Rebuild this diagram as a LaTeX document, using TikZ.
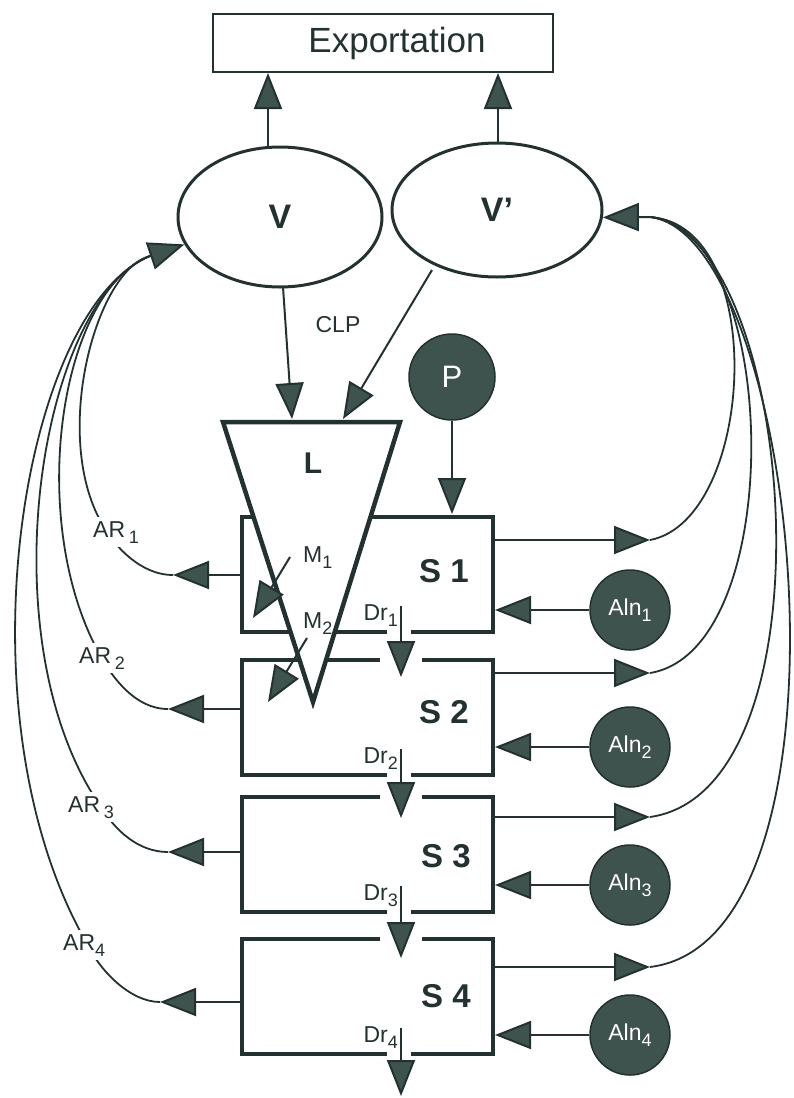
\documentclass[tikz,border=0pt]{standalone}
\usepackage{fontspec}
\setmainfont{Liberation Sans}
\usetikzlibrary{arrows.meta,shapes.geometric}
\definecolor{ink}{RGB}{35,50,48}
\definecolor{fillc}{RGB}{62,82,78}
\newcommand\fs[1]{\fontsize{#1}{#1}\selectfont}
\newcommand\lsub[1]{\raisebox{-6pt}{\fs{18}#1}}
\tikzset{
  thinl/.style={line width=2pt, draw=ink},
  arr/.style={line width=2pt, draw=ink, -{Triangle[length=36pt,width=28pt,fill=fillc]}},
  boxline/.style={line width=4.5pt, draw=ink, line join=miter},
  curv/.style={line width=1.8pt, draw=ink},
  dot/.style={circle, fill=fillc, draw=ink, line width=1.5pt, text=white, inner sep=0pt},
  lab/.style={font=\fs{23}, text=ink, inner sep=0pt},
  arlab/.style={font=\fs{23}, text=ink, fill=white, inner sep=4pt, anchor=base west},
}
\begin{document}
\begin{tikzpicture}[x=1pt,y=-1pt]
\useasboundingbox (0,0) rectangle (794,1098);

% junction coordinates
\coordinate (Vj) at (150,256);
\coordinate (Vpj) at (650,217);
\coordinate (O1) at (650,540);
\coordinate (O2) at (650,673);
\coordinate (O3) at (650,817);
\coordinate (O4) at (650,967);
\coordinate (A1) at (173,575);
\coordinate (A2) at (168,709);
\coordinate (A3) at (168,852);
\coordinate (A4) at (160,1002);

% right curves
\draw[curv] (Vpj) .. controls (770,225) and (755,520) .. (O1);
\draw[curv] (Vpj) .. controls (780,228) and (790,650) .. (O2);
\draw[curv] (Vpj) .. controls (795,233) and (840,790) .. (O3);
\draw[curv] (Vpj) .. controls (800,235) and (870,940) .. (O4);

% left curves
\draw[curv] (Vj) .. controls (95,270) and (50,440) .. (104,527) .. controls (114,545) and (140,575) .. (A1);
\draw[curv] (Vj) .. controls (60,290) and (25,520) .. (100,655) .. controls (112,677) and (135,709) .. (A2);
\draw[curv] (Vj) .. controls (40,300) and (-15,640) .. (101,807) .. controls (115,830) and (138,852) .. (A3);
\draw[curv] (Vj) .. controls (20,310) and (-45,720) .. (89,947) .. controls (100,970) and (130,1002) .. (A4);

% AR labels
\node[arlab] (AR1) at (89,537) {AR\,\lsub{1}};
\node[arlab] (AR2) at (75,663) {AR\,\lsub{2}};
\node[arlab] (AR3) at (64,812) {AR\,\lsub{3}};
\node[arlab] (AR4) at (59,950) {AR\lsub{4}};

% boxes
\draw[boxline] (387,632) -| (242,517) -| (493,632) -- (411,632);
\draw[boxline] (387,775) -| (242,660) -- (380,660);
\draw[boxline] (422,660) -| (493,775) -- (411,775);
\draw[boxline] (387,912) -| (242,797) -- (380,797);
\draw[boxline] (422,797) -| (493,912) -- (411,912);
\draw[boxline] (387,1054) -| (242,939) -- (380,939);
\draw[boxline] (422,939) -| (493,1054) -- (411,1054);

% triangle L
\draw[boxline, fill=white] (223,422) -- (400,422) -- (313,702) -- cycle;
\node[font=\bfseries\fs{30}, text=ink] (L) at (313,463) {L};

% top nodes
\node[draw=ink, line width=2pt, minimum width=340pt, minimum height=58pt] (E) at (383,43) {};
\node[font=\fs{35}, text=ink] (Et) at (397,43) {Exportation};
\node[ellipse, draw=ink, line width=3pt, minimum width=204pt, minimum height=140pt, font=\bfseries\fs{34}, text=ink] (V) at (280,217) {V};
\node[ellipse, draw=ink, line width=3pt, minimum width=210pt, minimum height=134pt, font=\bfseries\fs{34}, text=ink] (Vp) at (497,210) {V’};
\node[dot, minimum size=86pt, font=\fs{31}] (P) at (452,377) {P};
\node[lab, font=\fs{23}] (CLP) at (338,325) {CLP};

% arrows to Exportation and L
\draw[arr] (268,147) -- (268,73);
\draw[arr] (498,143) -- (498,73);
\draw[arr] (283,287) -- (292,419);
\draw[arr] (432,270) -- (343,419);
\draw[arr] (P.south) -- (452,514);

% arrows into V and V'
\draw[arr] (Vj) -- (V.196);
\draw[arr] (Vpj) -- (Vp.356);

% S labels
\node[font=\bfseries\fs{33}, text=ink, anchor=base] (S1) at (444,582) {S 1};
\node[font=\bfseries\fs{33}, text=ink, anchor=base] (S2) at (444,723) {S 2};
\node[font=\bfseries\fs{33}, text=ink, anchor=base] (S3) at (446,867) {S 3};
\node[font=\bfseries\fs{33}, text=ink, anchor=base] (S4) at (446,1007) {S 4};

% outputs to right
\draw[arr] (493,540) -- (O1);
\draw[arr] (493,673) -- (O2);
\draw[arr] (493,817) -- (O3);
\draw[arr] (493,967) -- (O4);

% AR arrows to left
\draw[arr] (242,575) -- (A1);
\draw[arr] (242,709) -- (A2);
\draw[arr] (242,852) -- (A3);
\draw[arr] (242,1002) -- (A4);

% Aln
\node[dot, minimum size=80pt, font=\fs{23}] (Aln1) at (630,610) {Aln\lsub{1}};
\node[dot, minimum size=80pt, font=\fs{23}] (Aln2) at (630,747) {Aln\lsub{2}};
\node[dot, minimum size=80pt, font=\fs{23}] (Aln3) at (630,885) {Aln\lsub{3}};
\node[dot, minimum size=80pt, font=\fs{23}] (Aln4) at (630,1035) {Aln\lsub{4}};
\draw[arr] (Aln1.west) -- (495,610);
\draw[arr] (Aln2.west) -- (495,747);
\draw[arr] (Aln3.west) -- (495,885);
\draw[arr] (Aln4.west) -- (495,1035);

% Dr arrows and labels
\draw[arr] (401,606) -- (401,677);
\draw[arr] (401,749) -- (401,818);
\draw[arr] (401,886) -- (401,958);
\draw[arr] (401,1028) -- (401,1096);
\node[lab, anchor=base east] (Dr1) at (398,620) {Dr\lsub{1}};
\node[lab, anchor=base east] (Dr2) at (398,763) {Dr\lsub{2}};
\node[lab, anchor=base east] (Dr3) at (398,900) {Dr\lsub{3}};
\node[lab, anchor=base east] (Dr4) at (398,1042) {Dr\lsub{4}};

% M arrows
\draw[arr] (290,557) -- (253,618);
\draw[arr] (307,638) -- (268,702);
\node[lab, anchor=base west] (M1) at (303,562) {M\lsub{1}};
\node[lab, anchor=base west] (M2) at (303,628) {M\lsub{2}};
\end{tikzpicture}
\end{document}
